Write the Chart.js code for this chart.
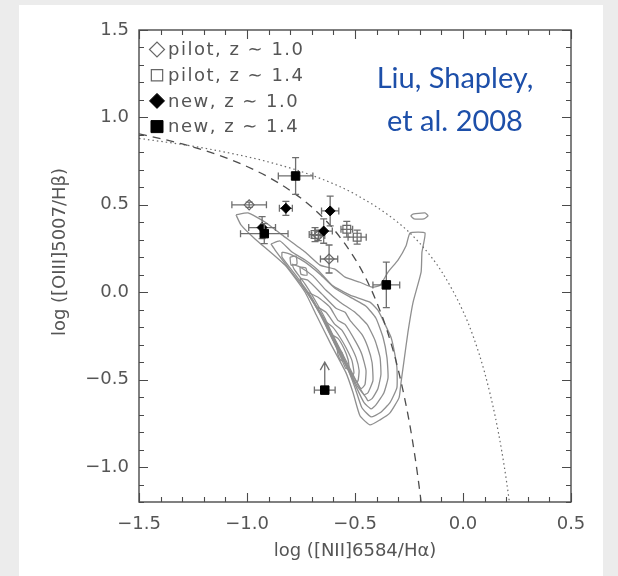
<!DOCTYPE html>
<html><head><meta charset="utf-8">
<script src="https://cdn.jsdelivr.net/npm/chart.js@4.4.1/dist/chart.umd.min.js"></script>
<style>
html,body{margin:0;padding:0;background:#ececec;overflow:hidden;}
#panel{position:absolute;left:19px;top:5px;width:584px;height:571px;background:#fff;}
#wrap{position:absolute;left:0;top:0;width:618px;height:576px;}
</style></head><body>
<div id="panel"></div>
<div id="wrap"><canvas id="c" width="618" height="576"></canvas></div>
<script>
// ---- tick labels ----
const xTickValues = [-1.5, -1.0, -0.5, 0.0, 0.5];
const yTickValues = [-1.0, -0.5, 0.0, 0.5, 1.0, 1.5];
const xTitle = 'log ([NII]6584/H\u03B1)';
const yTitle = 'log ([OIII]5007/H\u03B2)';

// ---- observed galaxies ----
const pilotZ10X = [-0.99, -0.62, -0.67];
const pilotZ10Y = [0.50, 0.19, 0.325];
const pilotZ10XErr = [0.08, 0.04, 0.03];
const pilotZ10YErr = [0.015, 0.08, 0.03];

const pilotZ14X = [-0.685, -0.538, -0.49];
const pilotZ14Y = [0.33, 0.36, 0.315];
const pilotZ14XErr = [0.027, 0.027, 0.042];
const pilotZ14YErr = [0.04, 0.045, 0.04];

const newZ10X = [-0.82, -0.615, -0.645, -0.93];
const newZ10Y = [0.48, 0.465, 0.35, 0.37];
const newZ10XErr = [0.03, 0.04, 0.04, 0.062];
const newZ10YErr = [0.04, 0.085, 0.07, 0.063];

const newZ14X = [-0.775, -0.92, -0.355, -0.64];
const newZ14Y = [0.665, 0.335, 0.042, -0.56];
const newZ14XErr = [0.08, 0.11, 0.062, 0.048];
const newZ14YErr = [0.105, 0.057, 0.13, 0];
const newZ14LimitTo = [null, null, null, -0.40];

// ---- demarcation curves ----
const kauffX = [-1.5,-1.4,-1.3,-1.2,-1.1,-1.0,-0.9,-0.8,-0.7,-0.6,-0.5,-0.45,-0.4,-0.35,-0.3,-0.25,-0.22,-0.2,-0.194];
const kauffY = [0.906,0.879,0.848,0.812,0.770,0.719,0.658,0.582,0.487,0.362,0.191,0.080,-0.056,-0.225,-0.443,-0.733,-0.959,-1.140,-1.200];
const kewX = [-1.5,-1.3,-1.1,-0.9,-0.7,-0.5,-0.3,-0.2,-0.1,0.0,0.05,0.1,0.15,0.18,0.2,0.215];
const kewY = [0.880,0.845,0.801,0.745,0.669,0.561,0.398,0.280,0.120,-0.108,-0.262,-0.459,-0.716,-0.913,-1.069,-1.202];

// ---- SDSS density contours (x, y pairs) ----
const contour1 = [[-1.051,0.443],[-0.995,0.454],[-0.917,0.402],[-0.838,0.328],[-0.731,0.230],[-0.662,0.155],[-0.593,0.132],[-0.546,0.086],[-0.477,0.057],[-0.421,0.029],[-0.384,0.040],[-0.347,0.115],[-0.301,0.184],[-0.264,0.264],[-0.245,0.339],[-0.176,0.339],[-0.190,0.230],[-0.194,0.115],[-0.231,-0.057],[-0.255,-0.230],[-0.273,-0.391],[-0.287,-0.517],[-0.296,-0.603],[-0.338,-0.690],[-0.384,-0.730],[-0.431,-0.759],[-0.477,-0.707],[-0.509,-0.575],[-0.542,-0.460],[-0.616,-0.287],[-0.681,-0.126],[-0.731,0.0],[-0.824,0.155],[-0.963,0.305],[-1.028,0.385],[-1.051,0.443]];
const contour2 = [[-0.889,0.276],[-0.847,0.293],[-0.792,0.230],[-0.731,0.184],[-0.671,0.126],[-0.606,0.040],[-0.523,-0.017],[-0.431,-0.057],[-0.394,-0.103],[-0.361,-0.184],[-0.333,-0.259],[-0.319,-0.333],[-0.306,-0.431],[-0.306,-0.546],[-0.338,-0.632],[-0.384,-0.690],[-0.426,-0.713],[-0.468,-0.661],[-0.500,-0.546],[-0.537,-0.431],[-0.602,-0.276],[-0.662,-0.126],[-0.722,0.0],[-0.801,0.126],[-0.870,0.241],[-0.889,0.276]];
const contour3 = [[-0.838,0.230],[-0.801,0.218],[-0.731,0.172],[-0.662,0.103],[-0.593,0.023],[-0.514,-0.034],[-0.449,-0.080],[-0.403,-0.149],[-0.370,-0.259],[-0.352,-0.374],[-0.347,-0.489],[-0.366,-0.575],[-0.403,-0.644],[-0.426,-0.667],[-0.458,-0.632],[-0.495,-0.540],[-0.532,-0.437],[-0.593,-0.287],[-0.653,-0.138],[-0.708,-0.017],[-0.778,0.103],[-0.838,0.201],[-0.838,0.230]];
const contour4 = [[-0.792,0.161],[-0.755,0.144],[-0.694,0.092],[-0.634,0.011],[-0.569,-0.057],[-0.500,-0.115],[-0.444,-0.184],[-0.407,-0.276],[-0.384,-0.374],[-0.380,-0.471],[-0.394,-0.552],[-0.421,-0.609],[-0.440,-0.621],[-0.449,-0.603],[-0.491,-0.534],[-0.528,-0.443],[-0.583,-0.299],[-0.639,-0.149],[-0.685,-0.046],[-0.731,0.046],[-0.782,0.132],[-0.792,0.161]];
const contour5 = [[-0.755,0.080],[-0.718,0.069],[-0.653,-0.011],[-0.588,-0.092],[-0.546,-0.115],[-0.523,-0.161],[-0.468,-0.241],[-0.440,-0.316],[-0.421,-0.402],[-0.417,-0.506],[-0.440,-0.575],[-0.458,-0.586],[-0.486,-0.529],[-0.523,-0.448],[-0.579,-0.316],[-0.639,-0.172],[-0.694,-0.057],[-0.745,0.040],[-0.755,0.080]];
const contour6 = [[-0.718,0.0],[-0.671,-0.029],[-0.616,-0.086],[-0.579,-0.161],[-0.546,-0.184],[-0.495,-0.287],[-0.468,-0.356],[-0.449,-0.448],[-0.454,-0.529],[-0.472,-0.552],[-0.500,-0.494],[-0.542,-0.391],[-0.597,-0.259],[-0.653,-0.132],[-0.704,-0.034],[-0.718,0.0]];
const contour7 = [[-0.681,-0.080],[-0.634,-0.115],[-0.593,-0.184],[-0.560,-0.218],[-0.523,-0.299],[-0.495,-0.374],[-0.481,-0.448],[-0.486,-0.506],[-0.500,-0.517],[-0.523,-0.460],[-0.565,-0.356],[-0.616,-0.218],[-0.667,-0.103],[-0.681,-0.080]];
const contour8 = [[-0.644,-0.161],[-0.602,-0.201],[-0.569,-0.259],[-0.542,-0.316],[-0.514,-0.391],[-0.505,-0.460],[-0.514,-0.483],[-0.537,-0.431],[-0.579,-0.328],[-0.630,-0.201],[-0.644,-0.161]];
const contour9 = [[-0.611,-0.241],[-0.579,-0.264],[-0.551,-0.322],[-0.532,-0.385],[-0.528,-0.431],[-0.542,-0.437],[-0.565,-0.374],[-0.597,-0.287],[-0.611,-0.241]];
const contour10 = [[-0.583,-0.316],[-0.560,-0.345],[-0.551,-0.391],[-0.565,-0.391],[-0.579,-0.356],[-0.583,-0.316]];
const island1 = [[-0.801,0.201],[-0.773,0.207],[-0.769,0.161],[-0.796,0.155],[-0.801,0.201]];
const island2 = [[-0.755,0.144],[-0.727,0.138],[-0.722,0.098],[-0.750,0.103],[-0.755,0.144]];
const island3 = [[-0.231,0.448],[-0.176,0.454],[-0.162,0.437],[-0.181,0.420],[-0.227,0.420],[-0.241,0.437],[-0.231,0.448]];
const contours = [contour1, contour2, contour3, contour4, contour5, contour6, contour7, contour8, contour9, contour10, island1, island2, island3];

// ---- legend + annotation text ----
const legendLabels = ['pilot, z \u223C 1.0', 'pilot, z \u223C 1.4', 'new, z \u223C 1.0', 'new, z \u223C 1.4'];
const creditLines = ['Liu, Shapley,', 'et al. 2008'];

const pts = (xs, ys) => xs.map((x, i) => ({x, y: ys[i]}));
const pairs = arr => arr.map(p => ({x: p[0], y: p[1]}));

const markerStyles = [
  {pointStyle: 'rectRot', radius: 5, fill: 'rgba(0,0,0,0)', stroke: '#666', bw: 1.2},
  {pointStyle: 'rect', radius: 5.5, fill: 'rgba(0,0,0,0)', stroke: '#666', bw: 1.2},
  {pointStyle: 'rectRot', radius: 5, fill: '#000', stroke: '#000', bw: 1},
  {pointStyle: 'rect', radius: 6, fill: '#000', stroke: '#000', bw: 1}
];

function pointSet(label, xs, ys, xe, ye, st, lim) {
  return {
    label, data: pts(xs, ys), xErr: xe, yErr: ye, limitTo: lim || null,
    showLine: false, pointStyle: st.pointStyle, pointRadius: st.radius,
    pointBackgroundColor: st.fill, pointBorderColor: st.stroke, pointBorderWidth: st.bw
  };
}

const datasets = [
  pointSet(legendLabels[3], newZ14X, newZ14Y, newZ14XErr, newZ14YErr, markerStyles[3], newZ14LimitTo),
  pointSet(legendLabels[2], newZ10X, newZ10Y, newZ10XErr, newZ10YErr, markerStyles[2]),
  pointSet(legendLabels[1], pilotZ14X, pilotZ14Y, pilotZ14XErr, pilotZ14YErr, markerStyles[1]),
  pointSet(legendLabels[0], pilotZ10X, pilotZ10Y, pilotZ10XErr, pilotZ10YErr, markerStyles[0]),
  {label: 'Kauffmann', data: pts(kauffX, kauffY), showLine: true, pointRadius: 0, borderColor: '#4d4d4d',
   borderWidth: 1.3, borderDash: [8, 6], cubicInterpolationMode: 'monotone', fill: false},
  {label: 'Kewley', data: pts(kewX, kewY), showLine: true, pointRadius: 0, borderColor: '#6a6a6a',
   borderWidth: 1.2, borderDash: [1.5, 3], cubicInterpolationMode: 'monotone', fill: false}
];
contours.forEach((c, i) => datasets.push({
  label: 'contour' + (i + 1), data: pairs(c), showLine: true, pointRadius: 0,
  borderColor: '#8f8f8f', borderWidth: 1.3, tension: 0.15, fill: false
}));

const fmt = v => (v < 0 ? '\u2212' : '') + Math.abs(v).toFixed(1);
const tickFont = {family: 'DejaVu Sans', size: 18};
const textGray = '#555';

const errorBars = {
  id: 'errorBars',
  beforeDatasetDraw(chart, args) {
    const ds = chart.data.datasets[args.index];
    if (!ds.xErr) return;
    const ctx = chart.ctx, xs = chart.scales.x, ys = chart.scales.y;
    ctx.save();
    ctx.strokeStyle = '#6e6e6e'; ctx.lineWidth = 1.3;
    ds.data.forEach((p, i) => {
      const px = xs.getPixelForValue(p.x), py = ys.getPixelForValue(p.y);
      const x0 = xs.getPixelForValue(p.x - ds.xErr[i]), x1 = xs.getPixelForValue(p.x + ds.xErr[i]);
      const c = 3.5;
      ctx.beginPath();
      ctx.moveTo(x0, py); ctx.lineTo(x1, py);
      ctx.moveTo(x0, py - c); ctx.lineTo(x0, py + c);
      ctx.moveTo(x1, py - c); ctx.lineTo(x1, py + c);
      if (ds.yErr[i] > 0) {
        const y0 = ys.getPixelForValue(p.y - ds.yErr[i]), y1 = ys.getPixelForValue(p.y + ds.yErr[i]);
        ctx.moveTo(px, y0); ctx.lineTo(px, y1);
        ctx.moveTo(px - c, y0); ctx.lineTo(px + c, y0);
        ctx.moveTo(px - c, y1); ctx.lineTo(px + c, y1);
      }
      if (ds.limitTo && ds.limitTo[i] != null) {
        const yt = ys.getPixelForValue(ds.limitTo[i]);
        ctx.moveTo(px, py); ctx.lineTo(px, yt);
        ctx.moveTo(px - 4.5, yt + 8); ctx.lineTo(px, yt); ctx.lineTo(px + 4.5, yt + 8);
      }
      ctx.stroke();
    });
    ctx.restore();
  }
};

const frame = {
  id: 'frame',
  afterDatasetsDraw(chart) {
    const ctx = chart.ctx, a = chart.chartArea, xs = chart.scales.x, ys = chart.scales.y;
    ctx.save();
    ctx.strokeStyle = '#4a4a4a'; ctx.lineWidth = 1.4;
    ctx.strokeRect(a.left, a.top, a.right - a.left, a.bottom - a.top);
    ctx.beginPath();
    ctx.lineWidth = 1.1;
    for (let k = -15; k <= 5; k++) {
      const px = Math.round(xs.getPixelForValue(k / 10)) + 0.5;
      const L = (k % 5 === 0) ? 9 : 5;
      ctx.moveTo(px, a.bottom); ctx.lineTo(px, a.bottom - L);
      ctx.moveTo(px, a.top); ctx.lineTo(px, a.top + L);
    }
    for (let k = -12; k <= 15; k++) {
      const py = Math.round(ys.getPixelForValue(k / 10)) + 0.5;
      const L = (k % 5 === 0) ? 9 : 5;
      ctx.moveTo(a.left, py); ctx.lineTo(a.left + L, py);
      ctx.moveTo(a.right, py); ctx.lineTo(a.right - L, py);
    }
    ctx.stroke();
    ctx.restore();
  },
  afterDraw(chart) {
    const ctx = chart.ctx, a = chart.chartArea;
    ctx.save();
    // y-axis title
    ctx.save();
    ctx.font = '18px "DejaVu Sans"';
    ctx.fillStyle = textGray;
    ctx.textAlign = 'center';
    ctx.textBaseline = 'middle';
    ctx.translate(60, 252);
    ctx.rotate(-Math.PI / 2);
    ctx.fillText(yTitle, 0, 0);
    ctx.restore();
    // legend
    ctx.font = '18px "DejaVu Sans"';
    ctx.fillStyle = textGray;
    ctx.textBaseline = 'middle';
    try { ctx.letterSpacing = '1.5px'; } catch (e) {}
    legendLabels.forEach((lab, i) => {
      const y = a.top + 19.5 + i * 25.7;
      const st = markerStyles[i];
      ctx.save();
      ctx.fillStyle = st.fill; ctx.strokeStyle = st.stroke; ctx.lineWidth = st.bw;
      Chart.helpers.drawPoint(ctx, {pointStyle: st.pointStyle, radius: st.radius + 2.5, borderWidth: st.bw}, a.left + 18, y);
      ctx.restore();
      ctx.fillText(lab, a.left + 29, y + 1);
    });
    try { ctx.letterSpacing = '0px'; } catch (e) {}
    // credit annotation
    ctx.font = '29px Lato';
    ctx.fillStyle = '#1d4fa9';
    ctx.textAlign = 'center';
    ctx.textBaseline = 'alphabetic';
    ctx.fillText(creditLines[0], 455, 88);
    ctx.fillText(creditLines[1], 455, 131);
    ctx.restore();
  }
};

new Chart(document.getElementById('c'), {
  type: 'scatter',
  data: {datasets},
  options: {
    responsive: false, animation: false, events: [],
    layout: {padding: {top: 30, right: 47, left: 0, bottom: 0}},
    plugins: {legend: {display: false}, tooltip: {enabled: false}},
    scales: {
      x: {
        type: 'linear', min: -1.5, max: 0.5,
        afterBuildTicks: s => { s.ticks = xTickValues.map(v => ({value: v})); },
        afterFit: s => { s.height = 74; },
        grid: {display: false, drawTicks: false}, border: {display: false},
        ticks: {callback: v => fmt(v), font: tickFont, color: textGray, padding: 12, maxRotation: 0},
        title: {display: true, text: xTitle, font: tickFont, color: textGray, padding: {top: 0, bottom: 14}}
      },
      y: {
        type: 'linear', min: -1.2, max: 1.5,
        afterBuildTicks: s => { s.ticks = yTickValues.map(v => ({value: v})); },
        afterFit: s => { s.width = 139; },
        grid: {display: false, drawTicks: false}, border: {display: false},
        ticks: {callback: v => fmt(v), font: tickFont, color: textGray, padding: 10},
        title: {display: false, text: yTitle}
      }
    }
  },
  plugins: [errorBars, frame]
});
</script>
</body></html>
